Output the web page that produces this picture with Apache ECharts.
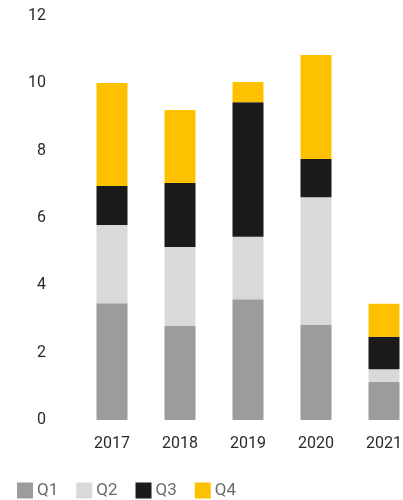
<!DOCTYPE html>
<html>
<head>
<meta charset="utf-8">
<script src="https://cdn.jsdelivr.net/npm/echarts@6/dist/echarts.min.js"></script>
<style>
  html, body { margin: 0; padding: 0; background: #fff; overflow: hidden; }
  #bar { width: 420px; height: 500px; }
</style>
</head>
<body>
<div id="bar"></div>
<script>
  // values
  const years = ['2017', '2018', '2019', '2020', '2021']
  const q1 = [3.47, 2.79, 3.59, 2.82, 1.13]
  const q2 = [2.32, 2.35, 1.85, 3.8, 0.38]
  const q3 = [1.16, 1.9, 4.0, 1.13, 0.96]
  const q4 = [3.06, 2.17, 0.6, 3.09, 0.98]
  const yTicks = [0, 2, 4, 6, 8, 10, 12]

  const colors = ['#9c9d9b', '#d9d9d9', '#1b1b19', '#fdc100']
  const font = 'Roboto, "DejaVu Sans", sans-serif'

  function stackSeries(name, data) {
    return {
      name: name,
      type: 'bar',
      stack: 'total',
      data: data,
      barWidth: 31,
      itemStyle: { borderWidth: 0 }
    }
  }

  // the last bar runs off the right edge in the original, so the chart
  // is a bit wider than the window and gets clipped
  const barChart = echarts.init(document.getElementById('bar'))
  let barOption = {
    animation: false,
    color: colors,
    grid: {
      left: 78,
      top: 16,
      right: 2,
      bottom: 80,
      containLabel: false
    },
    legend: {
      left: 12,
      top: 477,
      itemWidth: 16,
      itemHeight: 16,
      itemGap: 18,
      icon: 'rect',
      textStyle: {
        fontFamily: font,
        fontSize: 17,
        color: '#6b6b6b',
        padding: [0, 0, 0, -1]
      },
      data: ['Q1', 'Q2', 'Q3', 'Q4']
    },
    xAxis: {
      type: 'category',
      data: years,
      axisLine: { show: false },
      axisTick: { show: false },
      axisLabel: {
        margin: 16,
        fontFamily: font,
        fontSize: 16,
        color: '#2a2a2a'
      }
    },
    yAxis: {
      type: 'value',
      min: yTicks[0],
      max: yTicks[yTicks.length - 1],
      interval: 2,
      splitLine: { show: false },
      axisLine: { show: false },
      axisTick: { show: false },
      axisLabel: {
        margin: 32,
        fontFamily: font,
        fontSize: 16,
        color: '#2a2a2a'
      }
    },
    series: [
      stackSeries('Q1', q1),
      stackSeries('Q2', q2),
      stackSeries('Q3', q3),
      stackSeries('Q4', q4)
    ]
  }
  barChart.setOption(barOption)
</script>
</body>
</html>
